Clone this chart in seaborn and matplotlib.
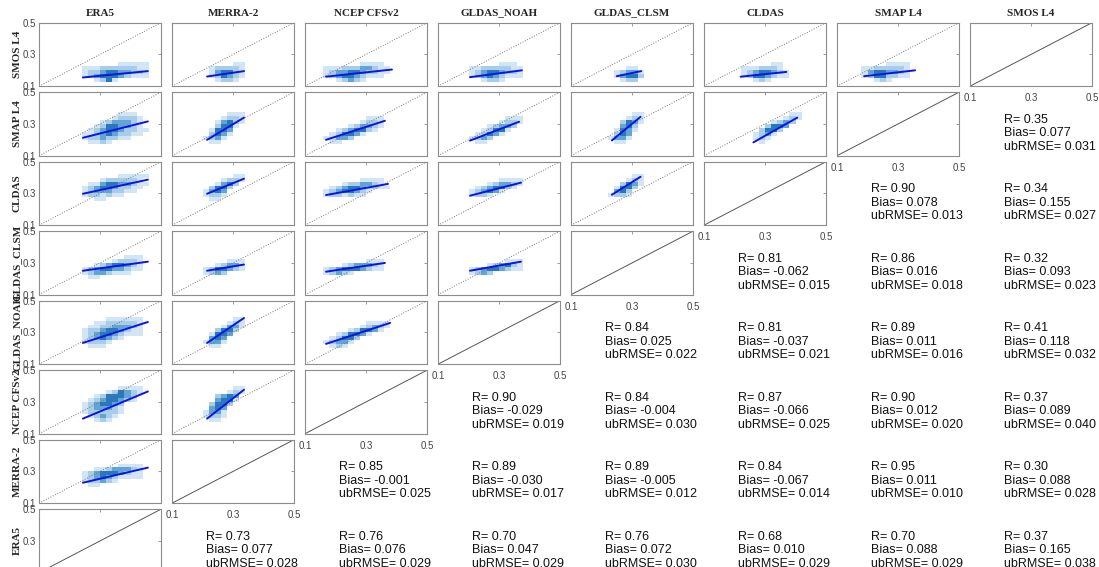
import numpy as np
import matplotlib
matplotlib.use("Agg")
import matplotlib.pyplot as plt
from matplotlib.colors import ListedColormap
import seaborn as sns

sns.set_style("white")
plt.rcParams['font.family'] = ['Liberation Sans', 'DejaVu Sans']

products = ["ERA5", "MERRA-2", "NCEP CFSv2", "GLDAS_NOAH", "GLDAS_CLSM",
            "CLDAS", "SMAP L4", "SMOS L4"]
row_products = products[::-1]
ticks = [0.1, 0.3, 0.5]

# upper triangle statistics, keyed by (row, col)
stat_R = {(1, 7): 0.35,
          (2, 6): 0.90, (2, 7): 0.34,
          (3, 5): 0.81, (3, 6): 0.86, (3, 7): 0.32,
          (4, 4): 0.84, (4, 5): 0.81, (4, 6): 0.89, (4, 7): 0.41,
          (5, 3): 0.90, (5, 4): 0.84, (5, 5): 0.87, (5, 6): 0.90, (5, 7): 0.37,
          (6, 2): 0.85, (6, 3): 0.89, (6, 4): 0.89, (6, 5): 0.84, (6, 6): 0.95, (6, 7): 0.30,
          (7, 1): 0.73, (7, 2): 0.76, (7, 3): 0.70, (7, 4): 0.76, (7, 5): 0.68, (7, 6): 0.70, (7, 7): 0.37}
stat_bias = {(1, 7): 0.077,
             (2, 6): 0.078, (2, 7): 0.155,
             (3, 5): -0.062, (3, 6): 0.016, (3, 7): 0.093,
             (4, 4): 0.025, (4, 5): -0.037, (4, 6): 0.011, (4, 7): 0.118,
             (5, 3): -0.029, (5, 4): -0.004, (5, 5): -0.066, (5, 6): 0.012, (5, 7): 0.089,
             (6, 2): -0.001, (6, 3): -0.030, (6, 4): -0.005, (6, 5): -0.067, (6, 6): 0.011, (6, 7): 0.088,
             (7, 1): 0.077, (7, 2): 0.076, (7, 3): 0.047, (7, 4): 0.072, (7, 5): 0.010, (7, 6): 0.088, (7, 7): 0.165}
stat_ubrmse = {(1, 7): 0.031,
               (2, 6): 0.013, (2, 7): 0.027,
               (3, 5): 0.015, (3, 6): 0.018, (3, 7): 0.023,
               (4, 4): 0.022, (4, 5): 0.021, (4, 6): 0.016, (4, 7): 0.032,
               (5, 3): 0.019, (5, 4): 0.030, (5, 5): 0.025, (5, 6): 0.020, (5, 7): 0.040,
               (6, 2): 0.025, (6, 3): 0.017, (6, 4): 0.012, (6, 5): 0.014, (6, 6): 0.010, (6, 7): 0.028,
               (7, 1): 0.028, (7, 2): 0.029, (7, 3): 0.029, (7, 4): 0.030, (7, 5): 0.029, (7, 6): 0.029, (7, 7): 0.038}

# fitted lines in the lower triangle: x0, y0, x1, y1
fit_lines = {
    (0, 0): (0.244, 0.155, 0.457, 0.195), (0, 1): (0.215, 0.161, 0.336, 0.195),
    (0, 2): (0.169, 0.160, 0.385, 0.205), (0, 3): (0.205, 0.157, 0.375, 0.200),
    (0, 4): (0.250, 0.163, 0.330, 0.195), (0, 5): (0.220, 0.160, 0.370, 0.190),
    (0, 6): (0.189, 0.163, 0.356, 0.200),
    (1, 0): (0.244, 0.213, 0.457, 0.316), (1, 1): (0.215, 0.200, 0.336, 0.340),
    (1, 2): (0.169, 0.200, 0.362, 0.320), (1, 3): (0.205, 0.195, 0.366, 0.314),
    (1, 4): (0.234, 0.196, 0.328, 0.345), (1, 5): (0.262, 0.184, 0.406, 0.340),
    (2, 0): (0.244, 0.298, 0.457, 0.387), (2, 1): (0.215, 0.298, 0.336, 0.393),
    (2, 2): (0.169, 0.290, 0.372, 0.360), (2, 3): (0.205, 0.286, 0.372, 0.368),
    (2, 4): (0.234, 0.292, 0.328, 0.405),
    (3, 0): (0.244, 0.251, 0.457, 0.308), (3, 1): (0.215, 0.251, 0.336, 0.290),
    (3, 2): (0.169, 0.245, 0.362, 0.300), (3, 3): (0.205, 0.251, 0.372, 0.308),
    (4, 0): (0.244, 0.234, 0.457, 0.366), (4, 1): (0.215, 0.234, 0.336, 0.391),
    (4, 2): (0.169, 0.228, 0.379, 0.360),
    (5, 0): (0.244, 0.195, 0.457, 0.366), (5, 1): (0.215, 0.195, 0.336, 0.377),
    (6, 0): (0.244, 0.229, 0.457, 0.324),
}

# density of pairs, binned 0.02 (x) by 0.025 (y): left edge, bottom edge, rows top to bottom
density = {
    (0, 0): (0.24, 0.125, ["......11111", "11122222211", "12234433221", "12344432111", "..1241....."]),
    (0, 1): (0.22, 0.125, ["....11", "122221", "134421", "124321", ".1221."]),
    (0, 2): (0.16, 0.125, ["......1111.", "11122233211", "12334432211", "1234432111.", "..12321...."]),
    (0, 3): (0.20, 0.125, [".....111.", "112222211", "123443221", "123432111", "..1221..."]),
    (0, 4): (0.24, 0.125, ["..11.", "12331", "13442", ".122."]),
    (0, 5): (0.22, 0.125, [".....11.", "1112221.", "12344321", "12443211", "..121..."]),
    (0, 6): (0.18, 0.125, ["....1111", "11222221", "13443321", "12442211", "..121..."]),
    (1, 0): (0.24, 0.175, ["......111..", ".....12221.", "...1233321.", "..12443321.",
                           ".1234432211", "1123432211.", "12232211...", ".1121......"]),
    (1, 1): (0.20, 0.175, ["....111", "...1221", "..13421", "..2441.", ".1443..", ".2431..", "1231...", ".11...."]),
    (1, 2): (0.16, 0.175, [".......111.", "......1221.", "....123321.", "..1234421..",
                           ".124431....", "11332......", ".11........"]),
    (1, 3): (0.20, 0.175, ["......111", ".....1221", "...12332.", "..12441..", ".12431...", "1232.....", ".11......"]),
    (1, 4): (0.22, 0.175, ["....11", "...121", "..2431", "..342.", ".1431.", ".243..", "1331..", ".11..."]),
    (1, 5): (0.26, 0.175, ["......11", ".....121", "...1232.", "..2443..", ".2442...", "1231....", "121.....", ".1......"]),
    (2, 0): (0.24, 0.25, ["......11111", "...1222221.", ".1134433211", "1234432211.",
                          "123332211..", "1221211....", "..11......."]),
    (2, 1): (0.20, 0.25, [".....11", "...1221", "..1342.", ".2442..", "1343...", "1221...", ".11...."]),
    (2, 2): (0.16, 0.275, ["......1111.", "...1223321.", ".1234432211", "12344321...", "1221211...."]),
    (2, 3): (0.20, 0.275, [".....1111", "...123321", ".1234421.", "123431...", "1221....."]),
    (2, 4): (0.22, 0.275, ["....11", "...121", "..2431", ".1442.", ".342..", "1221.."]),
    (3, 0): (0.24, 0.20, [".......111.", ".....12221.", "..12344321.", "1234433211.", "12332111...", ".11........"]),
    (3, 1): (0.20, 0.225, ["....111", "..12331", "1244321", "1232..."]),
    (3, 2): (0.16, 0.225, [".......111", "...1233321", "1234443211", "12321....."]),
    (3, 3): (0.20, 0.225, ["......111", "...123421", "123443211", "1232....."]),
    (4, 0): (0.24, 0.20, ["....111111.", "..11222221.", ".112233321.", "1223443211.",
                          "1234432111.", "1234321....", "12221......", ".111......."]),
    (4, 1): (0.20, 0.20, [".....11", "....121", "...1331", "..2442.", ".1443..", ".343...", "1331...", ".11...."]),
    (4, 2): (0.16, 0.20, [".......1111", "......12321", "....124431.", "..124431...",
                          ".12442.....", "12331......", ".121......."]),
    (5, 0): (0.24, 0.175, ["......1111.", "....124321.", "..1244432..", ".12344321..", "1234432....",
                           "1233321....", "1222221....", ".12321.....", "..121......"]),
    (5, 1): (0.20, 0.175, [".....11", "....121", "..2343.", "..3441.", ".2442..", ".343...", "1331...", "1221...", ".11...."]),
    (6, 0): (0.24, 0.20, ["......1111.", "..11233321.", "1234443211.", "1234321111.", "122321.....", ".11........"]),
}

cmap = ListedColormap(["#d2e5f4", "#a9cde8", "#62a5d4", "#2a78bc"])
frame_col = "#8c8c8c"

W, H = 1099, 567
fig = plt.figure(figsize=(W / 100, H / 100), dpi=100)
col_left = [39 + 133 * j for j in range(8)]
row_top = [22.7 + 69.5 * i for i in range(8)]
aw, ah = 122, 63.5

for j, name in enumerate(products):
    fig.text((col_left[j] + aw / 2) / W, 1 - 13 / H, name, ha="center", va="center",
             family="Liberation Serif", weight="bold", fontsize=8)

for i in range(8):
    fig.text(17 / W, 1 - (row_top[i] + ah / 2) / H, row_products[i], rotation=90,
             ha="center", va="center", family="Liberation Serif", weight="bold", fontsize=8)
    diag = 7 - i
    for j in range(8):
        if j > diag:
            x = (col_left[j] + 34) / W
            lines = ["R= %.2f" % stat_R[(i, j)], "Bias= %.3f" % stat_bias[(i, j)],
                     "ubRMSE= %.3f" % stat_ubrmse[(i, j)]]
            for k, s in enumerate(lines):
                fig.text(x, 1 - (row_top[i] + 27.5 + 13.5 * k) / H, s,
                         fontsize=9, va="center", ha="left", color="#111111")
            continue
        ax = fig.add_axes([col_left[j] / W, 1 - (row_top[i] + ah) / H, aw / W, ah / H])
        if j == diag:
            ax.plot(ticks, ticks, color="#555555", lw=0.7)
        else:
            x0, y0, rows = density[(i, j)]
            xs, ys, ws = [], [], []
            n = len(rows)
            for r, line in enumerate(rows):
                for c, ch in enumerate(line):
                    if ch != ".":
                        xs.append(x0 + 0.02 * c + 0.01)
                        ys.append(y0 + 0.025 * (n - 1 - r) + 0.0125)
                        ws.append(int(ch))
            sns.histplot(x=xs, y=ys, weights=ws, binwidth=(0.02, 0.025),
                         binrange=((0.1, 0.5), (0.1, 0.5)), cmap=cmap,
                         vmin=0.5, vmax=4.5, ax=ax)
            ax.plot(ticks, ticks, color="#777777", lw=0.7, ls=":")
            fx0, fy0, fx1, fy1 = fit_lines[(i, j)]
            ax.plot([fx0, fx1], [fy0, fy1], color="#0a14e6", lw=1.4)
        ax.set_xlim(0.1, 0.5)
        ax.set_ylim(0.1, 0.5)
        ax.set_xticks(ticks)
        ax.set_yticks(ticks)
        ax.set_xlabel("")
        ax.set_ylabel("")
        ax.tick_params(direction="in", length=2, width=0.6, color=frame_col,
                       top=True, right=True, labelsize=7, labelcolor="#444444", pad=2,
                       labelbottom=(j == diag), labelleft=(j == 0))
        ax.tick_params(axis="x", pad=5)
        ax.set_xticklabels(["0.1", "0.3", "0.5"])
        ax.set_yticklabels(["0.1", "0.3", "0.5"])
        for sp in ax.spines.values():
            sp.set_color(frame_col)
            sp.set_linewidth(0.8)

fig.savefig("out.png", dpi=100)
